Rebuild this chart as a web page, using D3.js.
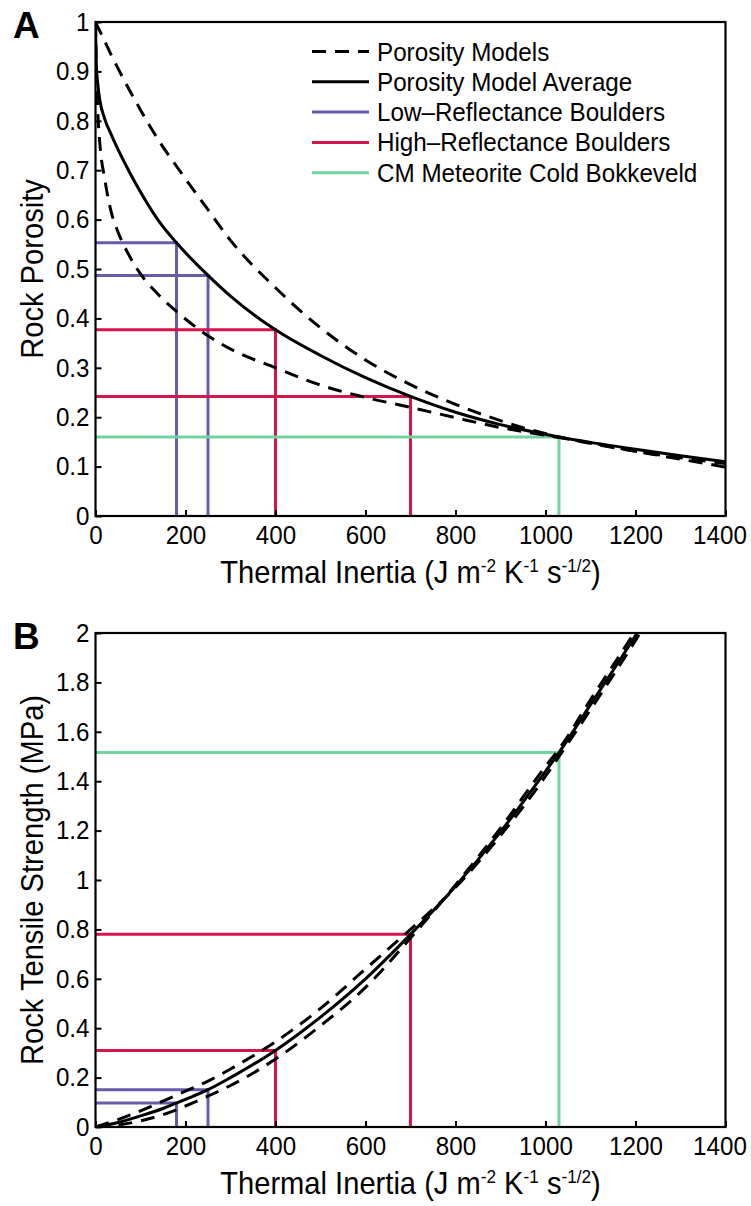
<!DOCTYPE html>
<html>
<head>
<meta charset="utf-8">
<script src="https://cdn.jsdelivr.net/npm/d3@7"></script>
<style>
  html, body { margin: 0; padding: 0; background: #fff; }
  svg text { font-family: "Liberation Sans", Arial, Helvetica, sans-serif; fill: #000; }
  .panel-letter { font-weight: bold; }
</style>
</head>
<body>
<svg id="chart" width="751" height="1206"></svg>
<script>
// thermal inertia sample points (J m-2 K-1 s-1/2)
const tiPorosity = [0, 2, 5, 10, 20, 35, 50, 75, 100, 140, 180, 250, 300, 400, 500, 600, 700, 800, 900, 1030, 1100, 1200, 1300, 1400];
// panel A: porosity
const porosityUpper   = [1.0, 0.996, 0.99, 0.981, 0.962, 0.933, 0.906, 0.863, 0.822, 0.761, 0.708, 0.62, 0.558, 0.462, 0.381, 0.316, 0.266, 0.226, 0.193, 0.16, 0.147, 0.131, 0.118, 0.106];
const porosityLower   = [1.0, 0.9, 0.82, 0.75, 0.685, 0.615, 0.575, 0.527, 0.49, 0.448, 0.414, 0.365, 0.338, 0.30, 0.265, 0.24, 0.22, 0.199, 0.179, 0.159, 0.148, 0.131, 0.115, 0.099];
const porosityAverage = [1.0, 0.91, 0.875, 0.84, 0.805, 0.772, 0.742, 0.697, 0.656, 0.598, 0.553, 0.487, 0.445, 0.377, 0.325, 0.28, 0.242, 0.21, 0.185, 0.16, 0.149, 0.135, 0.122, 0.11];

// panel B: tensile strength (MPa)
const tiStrength = [0, 50, 100, 150, 200, 250, 300, 400, 500, 600, 700, 800, 900, 1000, 1030, 1100, 1200, 1250];
const strengthUpper   = [0, 0.03, 0.065, 0.105, 0.145, 0.186, 0.235, 0.345, 0.48, 0.64, 0.8, 0.97, 1.18, 1.42, 1.5, 1.69, 1.97, 2.12];
const strengthLower   = [0, 0.008, 0.025, 0.05, 0.085, 0.125, 0.168, 0.275, 0.41, 0.565, 0.765, 0.98, 1.21, 1.46, 1.53, 1.73, 2.01, 2.16];
const strengthAverage = [0, 0.018, 0.045, 0.075, 0.112, 0.151, 0.2, 0.31, 0.445, 0.6, 0.78, 0.975, 1.195, 1.44, 1.516, 1.71, 1.99, 2.14];

// boulder / meteorite thermal inertia and derived values
const lowRefTI       = [180, 250];
const lowRefPorosity = [0.553, 0.487];
const lowRefStrength = [0.097, 0.151];
const highRefTI       = [400, 700];
const highRefPorosity = [0.377, 0.242];
const highRefStrength = [0.31, 0.78];
const cmTI       = [1030];
const cmPorosity = [0.16];
const cmStrength = [1.516];

// axes
const tiTicks       = [0, 200, 400, 600, 800, 1000, 1200, 1400];
const porosityTicks = [0, 0.1, 0.2, 0.3, 0.4, 0.5, 0.6, 0.7, 0.8, 0.9, 1];
const strengthTicks = [0, 0.2, 0.4, 0.6, 0.8, 1, 1.2, 1.4, 1.6, 1.8, 2];

const legendLabels = ['Porosity Models', 'Porosity Model Average', 'Low\u2013Reflectance Boulders', 'High\u2013Reflectance Boulders', 'CM Meteorite Cold Bokkeveld'];

const PURPLE = '#6a5aab';
const RED    = '#d6154b';
const GREEN  = '#71d3a1';
const DASH   = '14,9';

// slightly condensed text, like the original figure's font
const TICK_SQ = 0.93, LEG_SQ = 0.95, TITLE_SQ = 0.955;

const svg = d3.select('#chart');
svg.append('rect').attr('width', 751).attr('height', 1206).attr('fill', '#fff');

const left = 95.5, right = 725.5;

// text placed at (x,y) and squeezed horizontally
function narrowText(parent, x, y, size, squeeze, anchor, rotate) {
  const holder = parent.append('g')
    .attr('transform', `translate(${x},${y})` + (rotate ? ` rotate(${rotate})` : ''));
  return holder.append('text')
    .attr('transform', `scale(${squeeze},1)`)
    .attr('text-anchor', anchor)
    .style('font-size', size + 'px');
}

function drawPanel(opts) {
  const { id, top, bottom, letter, yTicks, yMax, yTitle, ti, upper, lower, avg, markers } = opts;
  const w = right - left, h = bottom - top;

  const x = d3.scaleLinear().domain([0, 1400]).range([0, w]);
  const y = d3.scaleLinear().domain([0, yMax]).range([h, 0]);

  const g = svg.append('g').attr('transform', `translate(${left},${top})`);

  g.append('clipPath').attr('id', 'clip-' + id)
    .append('rect').attr('width', w).attr('height', h);

  const plot = g.append('g').attr('clip-path', `url(#clip-${id})`);

  // reference lines for boulders & meteorite
  markers.forEach(m => {
    m.ti.forEach((t, i) => {
      plot.append('path')
        .attr('d', `M${x(0)},${y(m.val[i])}H${x(t)}V${y(0)}`)
        .attr('fill', 'none')
        .attr('stroke', m.color)
        .attr('stroke-width', 3);
    });
  });

  const line = (vals) => d3.line()
    .x((d, i) => x(ti[i]))
    .y(d => y(d))
    .curve(d3.curveMonotoneX)(vals);

  [upper, lower].forEach(vals => {
    plot.append('path')
      .attr('d', line(vals))
      .attr('fill', 'none')
      .attr('stroke', '#000')
      .attr('stroke-width', 3)
      .attr('stroke-dasharray', DASH);
  });
  plot.append('path')
    .attr('d', line(avg))
    .attr('fill', 'none')
    .attr('stroke', '#000')
    .attr('stroke-width', 3);

  // axes, ticks inward only on left/bottom
  const xAxis = d3.axisBottom(x).tickValues(tiTicks).tickSizeInner(-6).tickSizeOuter(0).tickPadding(10).tickFormat(d3.format('d'));
  const yAxis = d3.axisLeft(y).tickValues(yTicks).tickSizeInner(-6).tickSizeOuter(0).tickPadding(6).tickFormat(d3.format('~g'));

  const gx = g.append('g').attr('transform', `translate(0,${h})`).call(xAxis);
  const gy = g.append('g').call(yAxis);
  [gx, gy].forEach(a => {
    a.select('.domain').remove();
    a.selectAll('line').attr('stroke', '#000').attr('stroke-width', 2);
    a.selectAll('text')
      .style('font-size', '26px')
      .attr('transform', `scale(${TICK_SQ},1)`);
  });
  gy.selectAll('text').attr('x', -6 / TICK_SQ);
  // last x label pulled in so it stays inside the figure
  gx.selectAll('text').filter(d => d === 1400).attr('x', -6 / TICK_SQ);

  g.append('rect')
    .attr('width', w).attr('height', h)
    .attr('fill', 'none').attr('stroke', '#000').attr('stroke-width', 2.2);

  // x title with superscripts
  const xt = narrowText(g, w / 2, h + 67, 30.5, TITLE_SQ, 'middle');
  xt.append('tspan').text('Thermal Inertia (J m');
  xt.append('tspan').text('-2').attr('dy', -11).style('font-size', '18px');
  xt.append('tspan').text(' K').attr('dy', 11);
  xt.append('tspan').text('-1').attr('dy', -11).style('font-size', '18px');
  xt.append('tspan').text(' s').attr('dy', 11);
  xt.append('tspan').text('-1/2').attr('dy', -11).style('font-size', '18px');
  xt.append('tspan').text(')').attr('dy', 11);

  narrowText(g, -53, h / 2, 30.5, TITLE_SQ, 'middle', -90).text(yTitle);

  svg.append('text')
    .attr('class', 'panel-letter')
    .attr('x', 13).attr('y', top + 16)
    .style('font-size', '37px')
    .text(letter);

  return { g, x, y };
}

drawPanel({
  id: 'a', top: 22, bottom: 516, letter: 'A',
  yTicks: porosityTicks, yMax: 1, yTitle: 'Rock Porosity',
  ti: tiPorosity, upper: porosityUpper, lower: porosityLower, avg: porosityAverage,
  markers: [
    { ti: lowRefTI, val: lowRefPorosity, color: PURPLE },
    { ti: highRefTI, val: highRefPorosity, color: RED },
    { ti: cmTI, val: cmPorosity, color: GREEN }
  ]
});

drawPanel({
  id: 'b', top: 633, bottom: 1127, letter: 'B',
  yTicks: strengthTicks, yMax: 2, yTitle: 'Rock Tensile Strength (MPa)',
  ti: tiStrength, upper: strengthUpper, lower: strengthLower, avg: strengthAverage,
  markers: [
    { ti: lowRefTI, val: lowRefStrength, color: PURPLE },
    { ti: highRefTI, val: highRefStrength, color: RED },
    { ti: cmTI, val: cmStrength, color: GREEN }
  ]
});

// legend in panel A
const legendStyles = [
  { color: '#000', dash: DASH },
  { color: '#000', dash: null },
  { color: PURPLE, dash: null },
  { color: RED, dash: null },
  { color: GREEN, dash: null }
];
const legend = svg.append('g').attr('transform', 'translate(312,51.5)');
legendLabels.forEach((label, i) => {
  const row = legend.append('g').attr('transform', `translate(0,${i * 30.3})`);
  row.append('line')
    .attr('x1', 0).attr('x2', 57)
    .attr('stroke', legendStyles[i].color)
    .attr('stroke-width', 3)
    .attr('stroke-dasharray', legendStyles[i].dash);
  narrowText(row, 65, 9, 25.5, LEG_SQ, 'start').text(label);
});
</script>
</body>
</html>
